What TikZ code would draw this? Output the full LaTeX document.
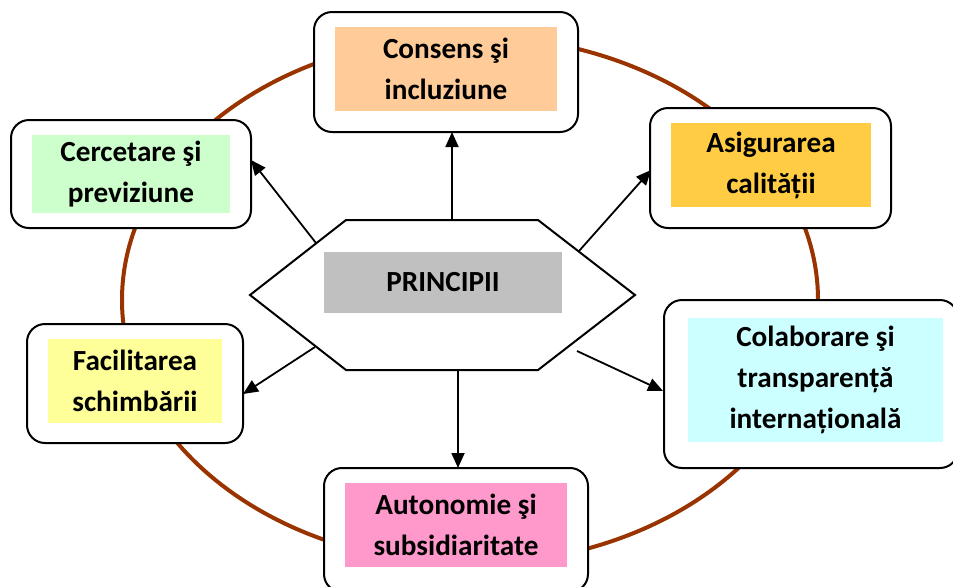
\documentclass[tikz,border=0pt]{standalone}
\usepackage{fontspec}
\setmainfont{Carlito}
\usetikzlibrary{arrows.meta}
\definecolor{brownring}{HTML}{993300}
\definecolor{peach}{HTML}{FFCC99}
\definecolor{goldfill}{HTML}{FFCC44}
\definecolor{mintfill}{HTML}{CCFFCC}
\definecolor{lemonfill}{HTML}{FFFF99}
\definecolor{aquafill}{HTML}{CCFFFF}
\definecolor{pinkfill}{HTML}{FF99CC}
\definecolor{greyfill}{HTML}{C0C0C0}
\tikzset{
  outerbox/.style={draw=black, line width=1pt, fill=white, rounded corners=9pt, inner sep=0pt},
  labelbox/.style={inner sep=0pt, align=center, font=\fontsize{14.6}{20.5}\selectfont\bfseries},
  ring/.style={draw=brownring, line width=2pt},
  hexline/.style={draw=black, line width=1pt, fill=white, line join=miter},
  conn/.style={draw=black, line width=0.9pt, -{Triangle[length=7.5pt,width=6.5pt]}}
}
\begin{document}
\begin{tikzpicture}[x=0.5pt,y=-0.5pt]
\useasboundingbox (0,0) rectangle (953,586);
\clip (0,0) rectangle (953,586);
% ring
\draw[ring] (470,300) ellipse [x radius=348, y radius=264];
% outer boxes
\node[outerbox, minimum width=132pt, minimum height=60pt] (cons) at (446,72) {};
\node[outerbox, minimum width=120.5pt, minimum height=60pt] (asig) at (770.5,168) {};
\node[outerbox, minimum width=120pt, minimum height=54pt] (cerc) at (131,174) {};
\node[outerbox, minimum width=108pt, minimum height=59.5pt] (facil) at (135,383.5) {};
\node[outerbox, minimum width=147pt, minimum height=84pt] (colab) at (811,384) {};
\node[outerbox, minimum width=132pt, minimum height=62pt] (auton) at (456,530) {};
% inner coloured labels
\node[labelbox, fill=peach, minimum width=111pt, minimum height=42pt] (consT) at (446,69) {Consens şi\\incluziune};
\node[labelbox, fill=goldfill, minimum width=100pt, minimum height=42pt] (asigT) at (771,165) {Asigurarea\\calității};
\node[labelbox, fill=mintfill, minimum width=99pt, minimum height=39pt] (cercT) at (131,174) {Cercetare şi\\previziune};
\node[labelbox, fill=lemonfill, minimum width=87pt, minimum height=42pt] (facilT) at (135,381) {Facilitarea\\schimbării};
\node[labelbox, fill=aquafill, minimum width=127.5pt, minimum height=62pt] (colabT) at (815.5,380) {Colaborare şi\\transparență\\internațională};
\node[labelbox, fill=pinkfill, minimum width=111pt, minimum height=42pt] (autonT) at (456,525) {Autonomie şi\\subsidiaritate};
% hexagon
\coordinate (hW) at (250,295);
\coordinate (hNW) at (346,220);
\coordinate (hNE) at (538,220);
\coordinate (hE) at (635,295);
\coordinate (hSE) at (538,370);
\coordinate (hSW) at (346,370);
\path[hexline] (hW) -- (hNW) -- (hNE) -- (hE) -- (hSE) -- (hSW) -- cycle;
\node[labelbox, fill=greyfill, minimum width=119pt, minimum height=30.5pt] (princ) at (443,282.5) {PRINCIPII};
% connector ends
\coordinate (sUp) at (452,220);
\coordinate (eUp) at (452,132);
\coordinate (sDn) at (458,370);
\coordinate (eDn) at (458,468);
\coordinate (sUL) at (316,243);
\coordinate (eUL) at (251,160);
\coordinate (sUR) at (579,251);
\coordinate (eUR) at (651,170);
\coordinate (sLL) at (315,347);
\coordinate (eLL) at (243,394);
\coordinate (sLR) at (577,351);
\coordinate (eLR) at (663,391);
\draw[conn] (sUp) -- (eUp);
\draw[conn] (sDn) -- (eDn);
\draw[conn] (sUL) -- (eUL);
\draw[conn] (sUR) -- (eUR);
\draw[conn] (sLL) -- (eLL);
\draw[conn] (sLR) -- (eLR);
\end{tikzpicture}
\end{document}
